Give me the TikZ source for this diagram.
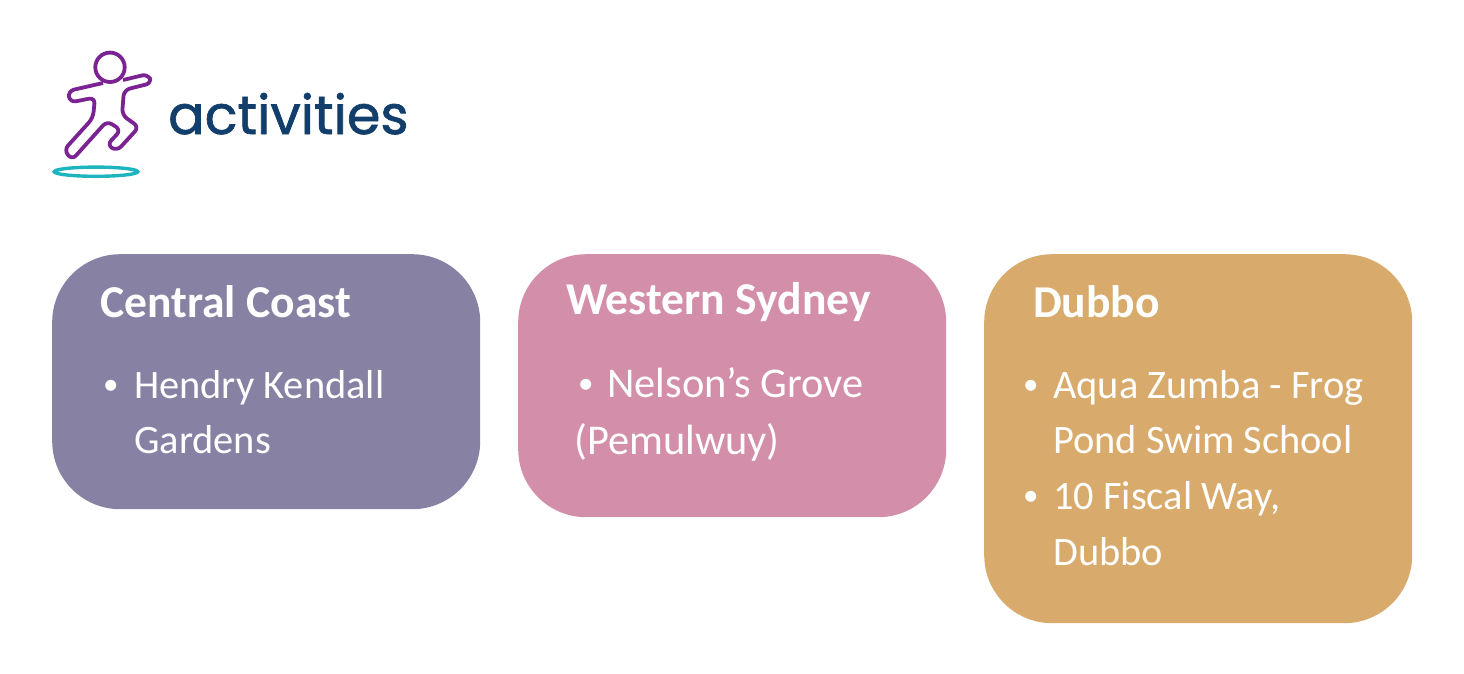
\documentclass[tikz,border=0pt]{standalone}
\usepackage{fontspec}
\setmainfont{Carlito}
\newfontfamily\logofont[FakeBold=1.3]{Poppins}
\usepackage{tikz}
\usetikzlibrary{positioning}
\definecolor{coastcol}{HTML}{8781A3}
\definecolor{sydneycol}{HTML}{D38EA9}
\definecolor{dubbocol}{HTML}{D8AA6C}
\definecolor{logonavy}{HTML}{123E6B}
\definecolor{logopurple}{HTML}{7B2393}
\definecolor{logoteal}{HTML}{1FB5C0}

\begin{document}
\begin{tikzpicture}[
    x=1pt, y=1pt,
    region/.style={rectangle, rounded corners=68pt, minimum width=428pt, inner sep=0pt, node distance=37.6pt},
    head/.style={font=\fontsize{45.6}{54}\selectfont\bfseries, text=white, inner sep=0pt, anchor=base west},
    item/.style={font=\fontsize{40.4}{48}\selectfont, text=white, inner sep=0pt, anchor=base west},
    wideitem/.style={item, font=\fontsize{42.4}{50}\selectfont},
    itemdot/.style={font=\fontsize{31}{36}\selectfont, text=white, inner sep=0pt, anchor=base west, yshift=3.5pt},
    figure/.style={draw=logopurple, line width=3.8pt, line join=round}]

    \useasboundingbox (0,0) rectangle (1464,-673);

    \node[region, fill=coastcol, minimum height=255pt, anchor=north west] (coast) at (52,-254) {};
    \node[region, fill=sydneycol, minimum height=263pt, right=of coast.north east, anchor=north west] (sydney) {};
    \node[region, fill=dubbocol, minimum height=369pt, right=of sydney.north east, anchor=north west] (dubbo) {};

    \node[head] (coasthead) at ([shift={(48,-63)}]coast.north west) {Central Coast};
        \node[itemdot] (coastdot) at ([shift={(51,-144)}]coast.north west) {•};
        \node[item] (coastone) at ([shift={(82,-144)}]coast.north west) {Hendry Kendall};
        \node[item] (coasttwo) at ([shift={(82,-199)}]coast.north west) {Gardens};

    \node[head] (sydneyhead) at ([shift={(48,-60)}]sydney.north west) {Western Sydney};
        \node[itemdot] (sydneydot) at ([shift={(60,-143)}]sydney.north west) {•};
        \node[wideitem] (sydneyone) at ([shift={(89,-143)}]sydney.north west) {Nelson’s Grove};
        \node[wideitem] (sydneytwo) at ([shift={(56,-200)}]sydney.north west) {(Pemulwuy)};

    \node[head] (dubbohead) at ([shift={(49,-63)}]dubbo.north west) {Dubbo};
        \node[itemdot] (dubbodot) at ([shift={(39,-144)}]dubbo.north west) {•};
        \node[item] (dubboone) at ([shift={(69,-144)}]dubbo.north west) {Aqua Zumba - Frog};
        \node[item] (dubbotwo) at ([shift={(69,-199)}]dubbo.north west) {Pond Swim School};
        \node[itemdot] (dubbodots) at ([shift={(39,-255)}]dubbo.north west) {•};
        \node[item] (dubbothree) at ([shift={(69,-255)}]dubbo.north west) {10 Fiscal Way,};
        \node[item] (dubbofour) at ([shift={(69,-311)}]dubbo.north west) {Dubbo};

    \node[font=\logofont\fontsize{54}{64}\selectfont, text=logonavy, inner sep=0pt, anchor=base west] (logoword) at (168,-134) {activities};

    \draw[figure] (110,-67.3) circle (14.7);
    \draw[figure, rounded corners=6pt] (103,-83) -- (68,-91) -- (70,-102.5) -- (95,-97.5) -- (93,-118) -- (64,-150) -- (72,-160) -- (107,-121) -- (121,-130) -- (107,-145) -- (117,-151) -- (139,-127) -- (122,-115) -- (124,-90) -- (152,-83) -- (148,-74) -- (123,-80);
    \draw[draw=logoteal, line width=3.4pt] (96,-171.7) ellipse (41.7 and 4.6);

\end{tikzpicture}
\end{document}
